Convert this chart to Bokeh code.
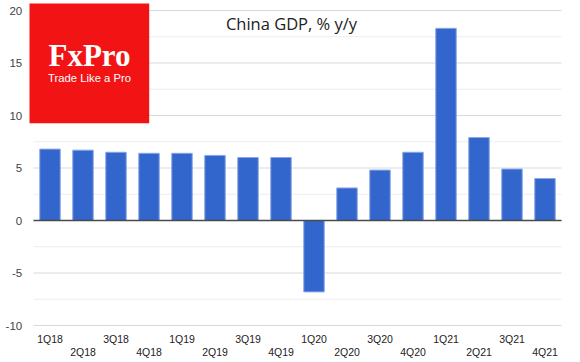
from bokeh.plotting import figure
from bokeh.models import Range1d
from bokeh.core.properties import value
from bokeh.embed import file_html
from bokeh.resources import INLINE

quarters = ["1Q18", "2Q18", "3Q18", "4Q18", "1Q19", "2Q19", "3Q19", "4Q19",
            "1Q20", "2Q20", "3Q20", "4Q20", "1Q21", "2Q21", "3Q21", "4Q21"]
gdp = [6.8, 6.7, 6.5, 6.4, 6.4, 6.2, 6.0, 6.0,
       -6.8, 3.1, 4.8, 6.5, 18.3, 7.9, 4.9, 4.0]
y_ticks = [-10, -5, 0, 5, 10, 15, 20]
y_minor = [-7.5, -2.5, 2.5, 7.5, 12.5, 17.5]
y_tick_labels = [str(t) for t in y_ticks]
title_text = "China GDP, % y/y"
logo_name = "FxPro"
logo_slogan = "Trade Like a Pro"

n = len(quarters)
xs = [i + 0.5 for i in range(n)]

# The frame spans the whole canvas; axis texts are drawn inside it.
p = figure(width=580, height=362, output_backend="svg", toolbar_location=None,
           x_range=Range1d(-1.0, 16.5758), y_range=Range1d(-13.5238, 20.9524),
           x_axis_location=None, y_axis_location=None,
           min_border=0, min_border_left=0, min_border_right=0,
           min_border_top=0, min_border_bottom=0)
p.outline_line_color = None
p.background_fill_color = "white"
p.border_fill_color = "white"
p.xgrid.visible = False
p.ygrid.visible = False

# grid lines (minor, major)
p.segment(x0=[0] * len(y_minor), x1=[n] * len(y_minor), y0=y_minor, y1=y_minor,
          line_color="#ededed", line_width=1)
p.segment(x0=[0] * len(y_ticks), x1=[n] * len(y_ticks), y0=y_ticks, y1=y_ticks,
          line_color="#d9d9d9", line_width=1)

# bars
p.vbar(x=xs, top=gdp, bottom=0, width=0.62, fill_color="#3366CC",
       line_color="#8aa6e6", line_width=1)

# zero baseline
p.segment(x0=[0], x1=[n], y0=[0], y1=[0], line_color="#4a4a4a", line_width=1.6)

# y tick labels
p.text(x=[-0.342] * len(y_ticks), y=y_ticks, text=y_tick_labels,
       text_align="right", text_baseline="middle",
       text_font=value("Liberation Sans"), text_font_size="11.5px",
       text_color="#444444")

# x tick labels, staggered on two rows
p.text(x=xs[0::2], y=[-11.24] * len(xs[0::2]), text=quarters[0::2],
       text_align="center", text_baseline="middle",
       text_font=value("Liberation Sans"), text_font_size="10.5px",
       text_color="#222222")
p.text(x=xs[1::2], y=[-12.57] * len(xs[1::2]), text=quarters[1::2],
       text_align="center", text_baseline="middle",
       text_font=value("Liberation Sans"), text_font_size="10.5px",
       text_color="#222222")

# logo
p.quad(left=[-0.1212], right=[3.506], bottom=[9.267], top=[20.667],
       fill_color="#F21414", line_color=None)
p.text(x=[1.697], y=[15.71], text=[logo_name], text_align="center",
       text_baseline="middle", text_font=value("Liberation Serif"),
       text_font_size="31px", text_font_style="bold", text_color="white")
p.text(x=[1.697], y=[13.56], text=[logo_slogan], text_align="center",
       text_baseline="middle", text_font=value("Liberation Sans"),
       text_font_size="11.3px", text_color="white")

# title
p.text(x=[7.818], y=[18.77], text=[title_text], text_align="center",
       text_baseline="middle", text_font=value("Open Sans"),
       text_font_size="16.5px", text_color="#222222")

open("out.html", "w").write(file_html(p, INLINE))
